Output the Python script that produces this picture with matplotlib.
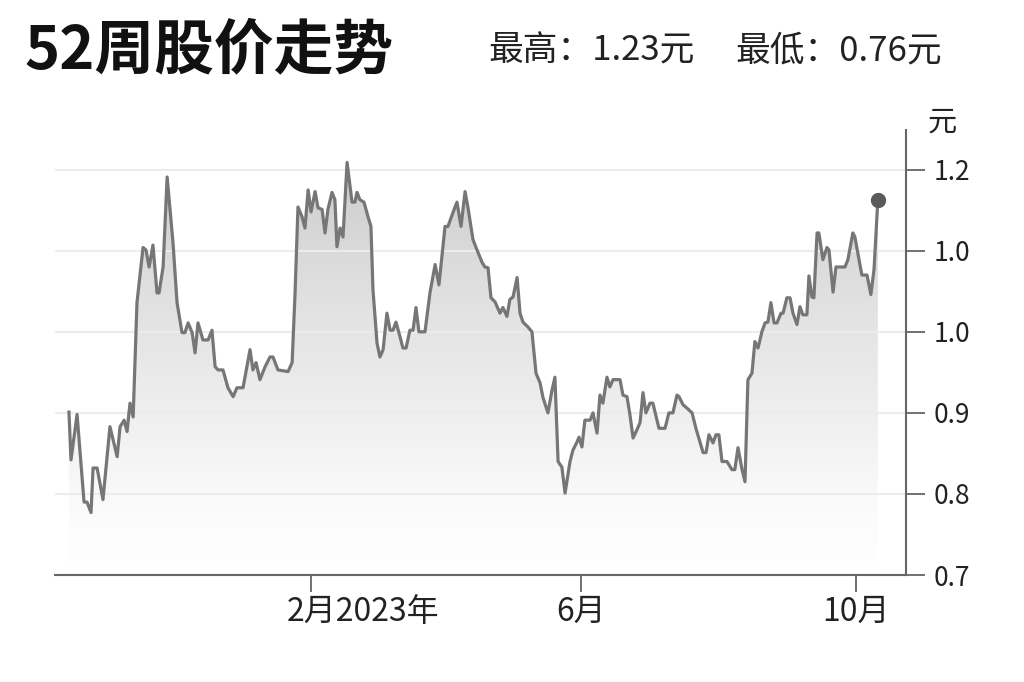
import numpy as np
import matplotlib
matplotlib.use('Agg')
import matplotlib.pyplot as plt
import matplotlib.dates as mdates
from matplotlib.colors import LinearSegmentedColormap
from matplotlib.transforms import ScaledTranslation

plt.rcParams['font.family'] = ['Noto Sans CJK SC', 'DejaVu Sans']

# ---------------- data ----------------
start_date = np.datetime64('2022-10-16')
day_offsets = [
    0.4, 1.3, 4.0, 7.1, 8.4, 10.2, 11.1, 12.9, 15.5, 18.6,
    21.8, 23.1, 24.9, 26.2, 27.5, 28.9, 30.6, 33.3, 34.6, 36.0,
    37.7, 39.5, 40.4, 42.2, 44.0, 46.6, 48.4, 50.6, 51.9, 53.3,
    55.1, 56.4, 57.7, 59.9, 62.2, 63.9, 65.3, 66.6, 68.8, 71.0,
    73.3, 75.0, 77.7, 80.8, 82.1, 83.5, 85.2, 87.5, 89.7, 91.0,
    93.2, 97.7, 99.5, 100.8, 102.1, 103.9, 105.2, 106.6, 107.9, 109.7,
    111.0, 112.8, 114.1, 115.4, 117.2, 118.5, 119.4, 120.8, 122.1, 123.9,
    126.1, 127.4, 128.3, 129.6, 131.4, 133.2, 134.5, 135.4, 137.2, 138.5,
    139.9, 141.6, 143.0, 144.3, 145.6, 147.4, 148.7, 150.1, 151.8, 153.2,
    154.5, 155.8, 158.5, 160.7, 163.0, 164.7, 167.4, 168.7, 170.9, 172.7,
    174.5, 176.3, 177.6, 179.8, 181.6, 183.8, 185.1, 186.5, 187.8, 189.6,
    191.8, 193.1, 194.9, 196.2, 197.6, 199.4, 200.7, 202.0, 204.2, 206.0,
    207.8, 209.6, 210.9, 213.1, 214.9, 216.2, 217.6, 219.3, 220.7, 222.9,
    224.2, 226.0, 226.9, 228.2, 229.5, 231.8, 233.1, 234.9, 236.2, 237.5,
    239.3, 240.6, 242.0, 245.1, 246.4, 248.2, 249.5, 250.9, 252.6, 254.0,
    255.3, 256.6, 258.4, 259.7, 262.4, 265.1, 266.8, 268.6, 270.4, 271.3,
    273.1, 274.8, 277.1, 278.8, 282.0, 283.3, 284.6, 286.4, 287.7, 289.0,
    290.4, 292.6, 294.8, 296.1, 297.5, 299.3, 300.6, 301.9, 303.7, 305.0,
    306.4, 308.1, 309.5, 310.8, 312.1, 313.5, 314.8, 316.6, 317.5, 319.2,
    320.6, 321.9, 323.7, 325.0, 326.3, 328.1, 329.0, 330.3, 331.2, 332.6,
    333.4, 335.2, 337.0, 337.9, 339.7, 341.0, 345.0, 346.3, 348.5, 349.4,
    352.5, 354.8, 356.5, 357.9, 359.6,
]
prices = [
    0.901, 0.842, 0.898, 0.790, 0.790, 0.777, 0.832, 0.832, 0.793, 0.883,
    0.846, 0.883, 0.891, 0.877, 0.912, 0.895, 1.036, 1.104, 1.101, 1.080,
    1.107, 1.048, 1.048, 1.080, 1.191, 1.110, 1.036, 0.999, 0.999, 1.011,
    0.999, 0.974, 1.011, 0.990, 0.990, 1.002, 0.957, 0.953, 0.953, 0.931,
    0.920, 0.931, 0.931, 0.978, 0.953, 0.962, 0.941, 0.957, 0.969, 0.969,
    0.953, 0.951, 0.962, 1.048, 1.154, 1.142, 1.128, 1.175, 1.148, 1.173,
    1.153, 1.151, 1.122, 1.151, 1.172, 1.163, 1.105, 1.128, 1.117, 1.209,
    1.160, 1.160, 1.172, 1.163, 1.160, 1.142, 1.130, 1.052, 0.986, 0.969,
    0.978, 1.023, 1.002, 1.002, 1.012, 0.994, 0.980, 0.980, 1.002, 1.002,
    1.030, 1.000, 1.000, 1.048, 1.083, 1.058, 1.130, 1.130, 1.147, 1.160,
    1.130, 1.173, 1.153, 1.114, 1.101, 1.086, 1.080, 1.079, 1.042, 1.037,
    1.023, 1.030, 1.019, 1.040, 1.043, 1.067, 1.023, 1.012, 1.006, 1.000,
    0.949, 0.937, 0.919, 0.900, 0.928, 0.944, 0.840, 0.833, 0.801, 0.840,
    0.854, 0.864, 0.870, 0.858, 0.891, 0.891, 0.900, 0.875, 0.922, 0.912,
    0.944, 0.932, 0.941, 0.941, 0.922, 0.920, 0.898, 0.869, 0.879, 0.888,
    0.925, 0.900, 0.912, 0.912, 0.881, 0.881, 0.900, 0.900, 0.922, 0.920,
    0.910, 0.906, 0.900, 0.881, 0.851, 0.851, 0.873, 0.863, 0.873, 0.873,
    0.840, 0.840, 0.830, 0.830, 0.857, 0.830, 0.815, 0.941, 0.949, 0.988,
    0.980, 1.000, 1.011, 1.012, 1.036, 1.011, 1.011, 1.023, 1.023, 1.042,
    1.042, 1.023, 1.009, 1.031, 1.021, 1.021, 1.069, 1.043, 1.042, 1.122,
    1.122, 1.089, 1.104, 1.101, 1.049, 1.080, 1.080, 1.089, 1.122, 1.117,
    1.070, 1.070, 1.046, 1.077, 1.163,
]
tick_dates = ['2023-02-01', '2023-06-01', '2023-10-01']
tick_labels = ['2月2023年', '6月', '10月']
y_ticks = [0.7, 0.8, 0.9, 1.0, 1.1, 1.2]
y_tick_labels = ['0.7', '0.8', '0.9', '1.0', '1.0', '1.2']
title = '52周股价走势'
high_text = '最高：1.23元'
low_text = '最低：0.76元'
unit_text = '元'

# ---------------- figure ----------------
W, H = 1024, 682
fig = plt.figure(figsize=(W / 100, H / 100), dpi=100)
fig.patch.set_facecolor('white')
ax = fig.add_axes([55 / W, 1 - 575 / H, (906 - 55) / W, (575 - 130) / H])

base = mdates.date2num(start_date)
x = base + np.array(day_offsets)
y = np.array(prices)

x_left, x_right = base - 5.8, base + 372.1
y_bottom, y_top = 0.7, 1.249

# gradient fill under line
cmap = LinearSegmentedColormap.from_list(
    'g', [(0.0, '#ffffff'), (0.15, '#fbfbfb'), (0.4, '#eeeeee'),
          (0.65, '#e1e1e1'), (1.0, '#cbcbcb')])
grad = np.linspace(0, 1, 256).reshape(-1, 1)
im = ax.imshow(grad, extent=[x_left, x_right, 0.7, 1.22], origin='lower',
               aspect='auto', cmap=cmap, zorder=1, interpolation='bilinear')
poly = ax.fill_between(x, y, y_bottom, facecolor='none', edgecolor='none')
im.set_clip_path(poly.get_paths()[0], transform=ax.transData)

ax.plot(x, y, color='#767676', lw=2.3, zorder=3)
ax.plot(x[-1], y[-1], 'o', ms=10, color='#5a5a5a', zorder=4)

ax.set_xlim(x_left, x_right)
ax.set_ylim(y_bottom, y_top)

# grid
ax.set_axisbelow(False)
ax.grid(axis='y', color='#ececec', lw=1.5, zorder=2)
ax.grid(axis='x', visible=False)

# spines
for s in ['top', 'left']:
    ax.spines[s].set_visible(False)
for s in ['right', 'bottom']:
    ax.spines[s].set_color('#666666')
    ax.spines[s].set_linewidth(1.5)
    ax.spines[s].set_zorder(5)

# y axis
ax.yaxis.tick_right()
ax.set_yticks(y_ticks)
ax.set_yticklabels(y_tick_labels)
ax.tick_params(axis='y', which='both', length=14, width=1.3, color='#666666',
               pad=6, labelsize=19, labelcolor='#222222')

# x axis
xt = [mdates.date2num(np.datetime64(d)) for d in tick_dates]
ax.set_xticks(xt)
ax.set_xticklabels(tick_labels)
ax.tick_params(axis='x', which='both', length=12, width=1.3, color='#666666',
               pad=3, labelsize=23, labelcolor='#222222')
first = ax.get_xticklabels()[0]
first.set_horizontalalignment('left')
first.set_transform(first.get_transform() + ScaledTranslation(-25 / 100, 0, fig.dpi_scale_trans))

# texts
fig.text(25 / W, 1 - 51 / H, title, fontsize=43, fontweight='bold',
         color='#111111', va='center', ha='left')
fig.text(488 / W, 1 - 51 / H, high_text, fontsize=25, color='#222222',
         va='center', ha='left')
fig.text(735 / W, 1 - 51 / H, low_text, fontsize=25, color='#222222',
         va='center', ha='left')
fig.text(942 / W, 1 - 123 / H, unit_text, fontsize=21, color='#222222',
         va='center', ha='center')

fig.savefig('out.png', dpi=100, facecolor='white')
